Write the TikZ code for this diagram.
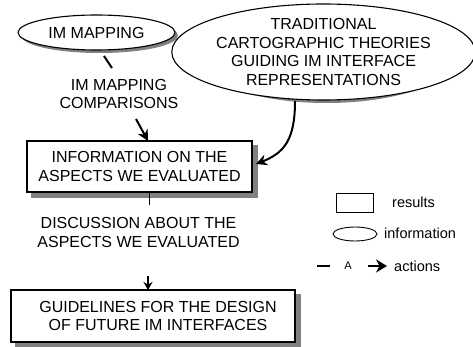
\documentclass[tikz,border=0pt]{standalone}
\usepackage{fontspec}
\setmainfont{Liberation Sans}
\usetikzlibrary{shapes.geometric,arrows.meta,backgrounds}
\begin{document}
\begin{tikzpicture}[x=1pt,y=-1pt,
  every node/.style={font=\fontsize{16}{18.5}\selectfont, align=center, inner sep=0pt},
  info/.style={ellipse, draw=black, line width=1.1pt, fill=white},
  result/.style={rectangle, draw=black, line width=1.1pt, fill=white},
  shade/.style={fill=gray, draw=none},
  label/.style={fill=none},
  link/.style={line width=2pt, black},
  act/.style={line width=2pt, black, -{Stealth[length=11pt,width=11pt]}},
  legtext/.style={font=\fontsize{14.5}{17}\selectfont, anchor=west}
]
\useasboundingbox (0,0) rectangle (473,347);

% main nodes
\node[info, minimum width=157pt, minimum height=35pt] (e1) at (96.5,32.5) {IM MAPPING};
\node[info, minimum width=263pt, minimum height=96pt] (e2) at (323.5,52)
  {TRADITIONAL\\CARTOGRAPHIC THEORIES\\GUIDING IM INTERFACE\\REPRESENTATIONS};
\node[label] (lab1) at (119,94) {IM MAPPING\\COMPARISONS};
\node[result, minimum width=225pt, minimum height=51pt] (b1) at (139.5,166.5)
  {INFORMATION ON THE\\ASPECTS WE EVALUATED};
\node[label] (lab2) at (138.5,232.5) {DISCUSSION ABOUT THE\\ASPECTS WE EVALUATED};
\node[result, minimum width=284pt, minimum height=52pt] (b2) at (153,316)
  {\hspace*{10pt}GUIDELINES FOR THE DESIGN\\\hspace*{10pt}OF FUTURE IM INTERFACES};

% shadows
\begin{pgfonlayer}{background}
  \fill[shade] ([shift={(3,3)}]e1.center) ellipse [x radius=78.5pt, y radius=17.5pt];
  \fill[shade] ([shift={(3,3)}]e2.center) ellipse [x radius=131.5pt, y radius=48pt];
  \fill[shade] ([shift={(5,5)}]b1.south west) rectangle ([shift={(5,5)}]b1.north east);
  \fill[shade] ([shift={(5,5)}]b2.south west) rectangle ([shift={(5,5)}]b2.north east);
\end{pgfonlayer}

% connectors
\coordinate (c1a) at (104,56);
\coordinate (c1b) at (112,68);
\draw[link] (c1a) -- (c1b);

\coordinate (c2a) at (136,119);
\coordinate (c2b) at (148,141);
\draw[act] (c2a) -- (c2b);

\coordinate (c3a) at (295,101);
\coordinate (c3b) at (256,164);
\draw[act] (c3a) .. controls (295,140) and (284,153) .. (c3b);

\coordinate (c4a) at (149,192);
\coordinate (c4b) at (149,205);
\draw[line width=0.9pt] (c4a) -- (c4b);

\coordinate (c5a) at (148,276);
\coordinate (c5b) at (148,290);
\draw[line width=2pt, -{Stealth[length=8pt,width=9pt]}] (c5a) -- (c5b);

% legend
\node[rectangle, draw=black, line width=0.9pt, minimum width=37pt, minimum height=19pt] (lr) at (354.5,202.5) {};
\node[legtext] (lrt) at (392,202) {results};
\node[ellipse, draw=black, line width=0.9pt, minimum width=44pt, minimum height=14pt] (le) at (355,234) {};
\node[legtext] (let) at (384,233) {information};
\coordinate (la1) at (317,266);
\coordinate (la2) at (330,266);
\draw[line width=2.5pt] (la1) -- (la2);
\node[font=\fontsize{11}{13}\selectfont] (lA) at (348,266) {A};
\coordinate (lb1) at (368,266);
\coordinate (lb2) at (387,266);
\draw[line width=2.5pt, -{Stealth[length=11pt,width=13pt]}] (lb1) -- (lb2);
\node[legtext] (lat) at (394,266) {actions};
\end{tikzpicture}
\end{document}
